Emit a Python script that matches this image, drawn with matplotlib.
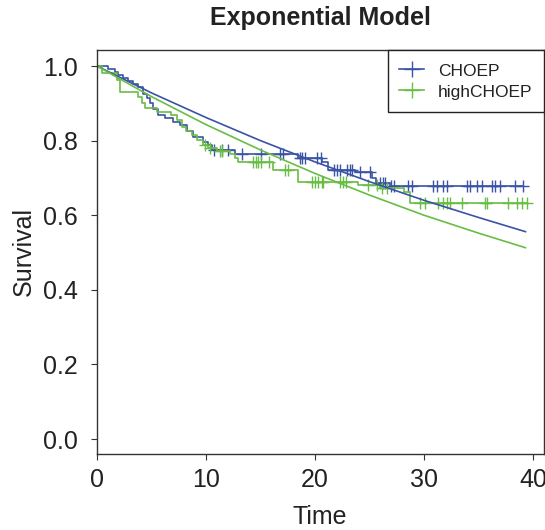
import matplotlib
matplotlib.use("Agg")
import matplotlib.pyplot as plt
import numpy as np

plt.rcParams.update({
    'font.family': ['Liberation Sans', 'DejaVu Sans'],
    'font.size': 18,
    'text.color': '#222222',
    'axes.linewidth': 1.0,
    'axes.edgecolor': '#333333',
    'xtick.major.size': 4,
    'ytick.major.size': 4,
    'xtick.color': '#333333',
    'ytick.color': '#333333',
    'xtick.labelcolor': '#222222',
    'ytick.labelcolor': '#222222',
})

blue = '#3a53a4'
green = '#68bd45'

# Kaplan-Meier, CHOEP
choep_t = [0, 1.0, 1.65, 1.9, 2.4, 2.85, 3.3, 3.75, 4.2, 4.6, 4.85, 5.15, 5.6, 6.25, 7.0,
           7.6, 8.25, 8.8, 9.7, 10.2, 10.55, 12.65, 18.4, 20.65, 21.2, 23.7, 25.2, 25.6, 26.9]
choep_s = [1.0, 0.992, 0.984, 0.976, 0.968, 0.960, 0.952, 0.944, 0.925, 0.915, 0.900, 0.885,
           0.869, 0.861, 0.850, 0.842, 0.826, 0.810, 0.797, 0.787, 0.775, 0.764, 0.753, 0.743,
           0.722, 0.716, 0.700, 0.687, 0.679]
choep_cens = [10.7, 11.5, 12.0, 13.3, 15.0, 16.8, 17.1, 18.6, 18.8, 19.1, 20.2, 20.5, 21.7,
              22.0, 22.3, 22.9, 23.2, 23.4, 24.1, 25.0, 26.0, 26.2, 26.4, 27.0, 27.2, 28.5,
              28.9, 30.8, 31.2, 31.7, 32.1, 33.9, 34.2, 34.9, 35.3, 36.2, 36.5, 37.0, 38.3, 39.1]

# Kaplan-Meier, highCHOEP
high_t = [0, 0.5, 1.8, 2.1, 3.8, 4.1, 4.4, 5.5, 6.8, 7.3, 7.8, 8.2, 8.7, 9.2, 9.7, 10.2,
          11.0, 12.2, 12.7, 12.95, 16.1, 18.4, 23.9, 26.0, 28.2, 28.7]
high_s = [1.0, 0.981, 0.963, 0.930, 0.918, 0.900, 0.888, 0.878, 0.869, 0.855, 0.837, 0.826,
          0.816, 0.802, 0.789, 0.780, 0.772, 0.764, 0.754, 0.743, 0.722, 0.690, 0.682, 0.674,
          0.662, 0.634]
high_cens = [9.9, 10.4, 11.3, 11.5, 14.3, 14.6, 14.8, 15.0, 15.8, 17.2, 17.5, 19.7, 20.0,
             20.3, 20.6, 20.7, 22.3, 22.6, 22.8, 24.9, 25.7, 26.1, 26.6, 29.6, 30.1, 31.3,
             31.7, 32.1, 32.4, 33.5, 35.6, 35.8, 37.7, 38.5, 39.0, 39.4]

# exponential model curves
model_t = [0, 5, 10, 15, 20, 25, 30, 35, 39.3]
choep_model = [1.0, 0.928, 0.862, 0.800, 0.743, 0.690, 0.640, 0.594, 0.556]
high_model = [1.0, 0.918, 0.843, 0.775, 0.712, 0.654, 0.600, 0.552, 0.513]


def km(ax, t, s, cens, color, label):
    t = np.array(t)
    s = np.array(s)
    cens = np.array(cens)
    end = cens.max()
    ax.step(np.append(t, end), np.append(s, s[-1]), where='post', color=color, lw=1.2)
    idx = np.searchsorted(t, cens, side='right') - 1
    ax.plot(cens, s[idx], ls='none', marker='+', ms=8, mew=1.0, color=color)
    ax.plot([], [], color=color, lw=1.2, marker='+', ms=12, mew=1.0, label=label)


fig = plt.figure(figsize=(5.45, 5.30), dpi=100)
ax = fig.add_axes([97 / 545, 1 - 454 / 530, 447 / 545, 404 / 530])

km(ax, choep_t, choep_s, choep_cens, blue, 'CHOEP')
km(ax, high_t, high_s, high_cens, green, 'highCHOEP')
ax.plot(model_t, choep_model, color=blue, lw=1.2)
ax.plot(model_t, high_model, color=green, lw=1.2)

ax.set_xlim(0, 41)
ax.set_ylim(-0.04, 1.043)
ax.set_xticks([0, 10, 20, 30, 40])
ax.set_yticks([0.0, 0.2, 0.4, 0.6, 0.8, 1.0])
ax.set_yticklabels(['0.0', '0.2', '0.4', '0.6', '0.8', '1.0'])
ax.tick_params(axis='y', pad=10)
ax.tick_params(axis='x', pad=6)

fig.text(320 / 545, 1 - 18 / 530, 'Exponential Model', ha='center', va='center',
         fontweight='bold', fontsize=18)
fig.text(320 / 545, 1 - 517 / 530, 'Time', ha='center', va='center', fontsize=18)
fig.text(24 / 545, 1 - 252 / 530, 'Survival', ha='center', va='center', rotation=90,
         fontsize=18)

leg = ax.legend(loc='upper right', bbox_to_anchor=(1, 1), borderaxespad=0, fontsize=12.5,
                frameon=True, fancybox=False, edgecolor='#222222', framealpha=1,
                handlelength=1.45, handleheight=1.2, handletextpad=0.8, labelspacing=0.2,
                borderpad=0.65)
leg.get_frame().set_linewidth(1.0)

fig.savefig('out.png', dpi=100)
